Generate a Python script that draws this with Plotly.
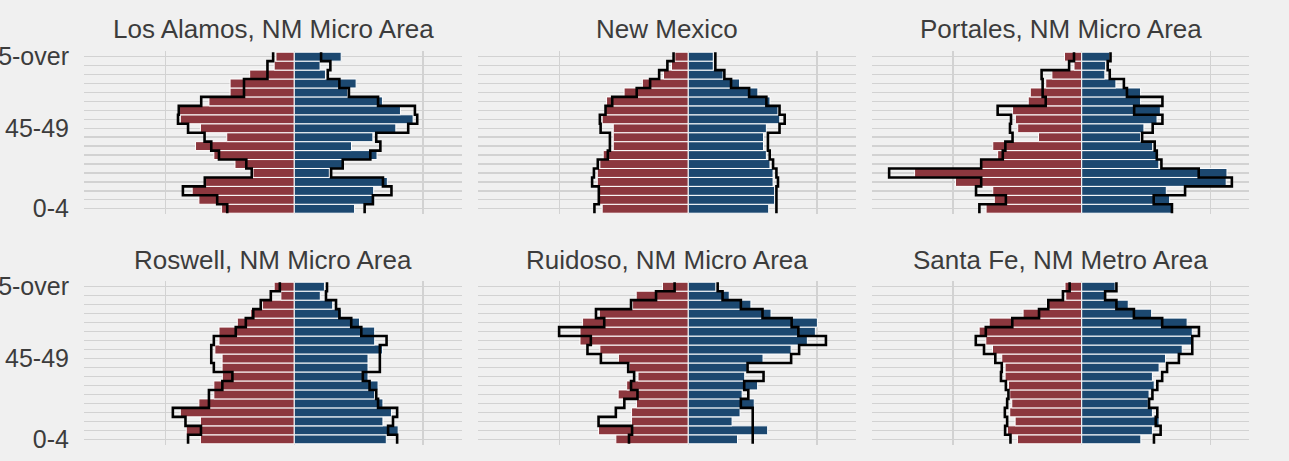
import plotly.graph_objects as go

# ---------------- data (percent of total population) ----------------
age_groups = ["0-4", "5-9", "10-14", "15-19", "20-24", "25-29", "30-34", "35-39",
              "40-44", "45-49", "50-54", "55-59", "60-64", "65-69", "70-74",
              "75-79", "80-84", "85-over"]
shown_age_labels = ["0-4", "45-49", "85-over"]

areas = ["Los Alamos, NM Micro Area", "New Mexico", "Portales, NM Micro Area",
         "Roswell, NM Micro Area", "Ruidoso, NM Micro Area", "Santa Fe, NM Metro Area"]

# bars: current male / female shares; outlines: comparison male / female shares
los_alamos_male = [2.82, 3.70, 3.96, 3.44, 1.60, 2.30, 3.12, 3.83, 2.62, 3.64, 4.42, 4.45, 3.31, 2.49, 2.49, 1.73, 0.78, 0.71]
los_alamos_female = [2.34, 3.12, 3.08, 3.61, 1.36, 1.88, 3.21, 2.22, 3.05, 3.94, 4.61, 4.12, 3.42, 2.08, 2.40, 1.21, 1.00, 1.82]
los_alamos_male_ref = [2.60, 2.99, 4.32, 3.47, 1.65, 1.86, 2.92, 3.22, 3.48, 4.12, 4.51, 4.48, 3.61, 1.95, 1.95, 1.04, 1.04, 0.82]
los_alamos_female_ref = [2.73, 3.05, 3.77, 3.44, 1.43, 1.88, 2.95, 3.34, 3.18, 4.42, 4.77, 4.68, 3.25, 2.12, 1.75, 1.30, 1.40, 1.04]

new_mexico_male = [3.34, 3.47, 3.47, 3.53, 3.53, 3.43, 3.30, 2.91, 2.91, 2.91, 3.34, 3.25, 3.17, 2.49, 1.78, 0.96, 0.65, 0.52]
new_mexico_female = [3.12, 3.35, 3.35, 3.29, 3.29, 3.17, 3.03, 2.92, 2.92, 3.03, 3.55, 3.48, 3.17, 2.70, 1.99, 1.35, 0.97, 0.97]
new_mexico_male_ref = [3.64, 3.47, 3.47, 3.73, 3.66, 3.51, 3.12, 3.04, 3.04, 3.40, 3.43, 3.21, 2.95, 2.00, 1.48, 1.13, 0.81, 0.57]
new_mexico_female_ref = [3.42, 3.42, 3.42, 3.48, 3.42, 3.29, 3.16, 3.09, 3.09, 3.54, 3.74, 3.54, 3.03, 2.36, 1.66, 1.40, 1.05, 1.05]

portales_male = [3.72, 3.40, 3.46, 4.91, 6.50, 3.91, 3.27, 3.46, 1.68, 2.49, 2.58, 2.69, 2.08, 2.00, 1.40, 1.16, 0.30, 0.67]
portales_female = [3.51, 3.42, 3.29, 5.62, 5.65, 3.00, 2.91, 2.76, 2.29, 2.42, 2.93, 3.06, 2.29, 2.29, 1.33, 0.90, 0.93, 1.09]
portales_male_ref = [3.98, 2.95, 4.11, 3.91, 7.49, 3.91, 3.07, 2.97, 2.69, 2.79, 2.75, 3.27, 1.40, 1.52, 1.52, 1.56, 0.49, 0.30]
portales_female_ref = [3.51, 2.80, 4.02, 5.84, 4.55, 3.10, 2.92, 2.84, 2.35, 2.76, 3.14, 2.04, 3.14, 1.76, 1.64, 1.09, 1.01, 1.12]

roswell_male = [3.64, 4.19, 3.64, 4.42, 3.70, 3.12, 3.12, 2.79, 2.80, 2.80, 3.08, 2.92, 2.92, 2.21, 1.69, 1.23, 0.52, 0.78]
roswell_female = [3.57, 4.03, 3.44, 3.77, 3.44, 3.12, 3.25, 2.86, 2.86, 2.86, 3.42, 3.12, 3.12, 2.53, 1.82, 1.49, 1.01, 1.17]
roswell_male_ref = [4.12, 3.62, 4.22, 4.71, 3.31, 3.31, 2.79, 2.40, 3.12, 3.22, 3.22, 3.12, 2.27, 1.88, 1.59, 1.30, 0.91, 0.56]
roswell_female_ref = [3.99, 3.64, 3.83, 3.99, 3.25, 3.18, 2.92, 2.66, 3.32, 3.32, 3.32, 3.58, 2.60, 2.21, 1.75, 1.62, 1.23, 1.27]

ruidoso_male = [2.81, 3.48, 2.20, 2.20, 2.01, 2.72, 2.39, 1.95, 2.30, 2.71, 3.43, 4.20, 4.20, 4.10, 3.45, 2.16, 2.02, 1.00]
ruidoso_female = [1.91, 3.08, 1.70, 2.01, 2.56, 2.09, 2.69, 2.19, 2.29, 2.90, 3.99, 4.62, 4.93, 5.01, 3.21, 2.43, 1.59, 1.07]
ruidoso_male_ref = [2.30, 2.18, 3.48, 2.81, 2.48, 1.97, 2.22, 2.10, 2.33, 3.39, 3.91, 3.78, 5.01, 3.26, 3.58, 2.22, 1.25, 0.53]
ruidoso_female_ref = [2.50, 2.50, 2.50, 2.50, 2.04, 2.33, 2.17, 2.92, 2.30, 3.99, 4.30, 5.34, 4.27, 4.01, 2.88, 2.04, 1.33, 1.14]

santa_fe_male = [2.50, 2.89, 2.59, 2.80, 2.72, 2.80, 2.85, 2.98, 2.98, 3.11, 3.47, 3.73, 3.99, 3.60, 2.28, 1.35, 0.62, 0.65]
santa_fe_female = [2.30, 2.75, 3.01, 2.75, 2.59, 2.62, 2.82, 2.75, 3.01, 3.26, 3.91, 4.30, 4.30, 4.10, 2.72, 1.81, 0.93, 1.30]
santa_fe_male_ref = [2.77, 2.98, 2.90, 2.99, 2.90, 2.85, 2.95, 3.14, 3.11, 3.36, 3.80, 4.12, 3.73, 2.70, 1.66, 1.30, 0.73, 0.47]
santa_fe_female_ref = [2.81, 3.07, 2.88, 2.94, 2.62, 2.75, 2.94, 3.13, 3.32, 3.78, 4.30, 4.30, 4.56, 3.13, 2.03, 1.35, 0.91, 1.35]

panels = [
    (los_alamos_male, los_alamos_female, los_alamos_male_ref, los_alamos_female_ref),
    (new_mexico_male, new_mexico_female, new_mexico_male_ref, new_mexico_female_ref),
    (portales_male, portales_female, portales_male_ref, portales_female_ref),
    (roswell_male, roswell_female, roswell_male_ref, roswell_female_ref),
    (ruidoso_male, ruidoso_female, ruidoso_male_ref, ruidoso_female_ref),
    (santa_fe_male, santa_fe_female, santa_fe_male_ref, santa_fe_female_ref),
]

# ---------------- style ----------------
W, H = 1289, 461
BG = "#F0F0F0"
GRID = "#D2D2D2"
RED = "#8C373E"
BLUE = "#1C4870"
TXT = "#3C3C3C"
FONT = "Liberation Sans, Arial, sans-serif"

col_px = [(84, 462), (478, 856), (872, 1249)]
row_px = [(51.3, 214.1), (281.3, 444.7)]
title_px = [28.5, 260]

# shared x scale with 5% expansion
lo = -max(max(p[0] + p[2]) for p in panels)
hi = max(max(p[1] + p[3]) for p in panels)
span = hi - lo
x_range = [lo - 0.05 * span, hi + 0.05 * span]

n_age = len(age_groups)
ypos = list(range(n_age))
step_y = [i - 0.5 for i in ypos] + [n_age - 0.5]

fig = go.Figure()
annotations = []
layout_axes = {}

for idx, (area, (male, female, male_ref, female_ref)) in enumerate(zip(areas, panels)):
    r, c = divmod(idx, 3)
    n = idx + 1
    xa = "x" if n == 1 else f"x{n}"
    ya = "y" if n == 1 else f"y{n}"

    fig.add_trace(go.Bar(y=ypos, x=[-v for v in male], orientation="h", width=1,
                         marker=dict(color=RED, line=dict(color="white", width=1)),
                         xaxis=xa, yaxis=ya, showlegend=False, name="Male"))
    fig.add_trace(go.Bar(y=ypos, x=female, orientation="h", width=1,
                         marker=dict(color=BLUE, line=dict(color="white", width=1)),
                         xaxis=xa, yaxis=ya, showlegend=False, name="Female"))
    fig.add_trace(go.Scatter(x=[-v for v in male_ref] + [-male_ref[-1]], y=step_y,
                             mode="lines", line=dict(color="black", width=2.6, shape="vh"),
                             xaxis=xa, yaxis=ya, showlegend=False, name="Male (comparison)"))
    fig.add_trace(go.Scatter(x=female_ref + [female_ref[-1]], y=step_y,
                             mode="lines", line=dict(color="black", width=2.6, shape="vh"),
                             xaxis=xa, yaxis=ya, showlegend=False, name="Female (comparison)"))

    x0, x1 = col_px[c]
    t, b = row_px[r]
    xkey = "xaxis" if n == 1 else f"xaxis{n}"
    ykey = "yaxis" if n == 1 else f"yaxis{n}"
    layout_axes[xkey] = dict(domain=[x0 / W, x1 / W], range=x_range, anchor=ya,
                             tickvals=[-5, 0, 5], showticklabels=False, ticks="",
                             showgrid=True, gridcolor=GRID, gridwidth=1.4,
                             zeroline=False, showline=False, fixedrange=True)
    layout_axes[ykey] = dict(domain=[(H - b) / H, (H - t) / H], range=[-0.6, n_age - 0.4],
                             anchor=xa, tickvals=ypos,
                             ticktext=[a if a in shown_age_labels else "" for a in age_groups],
                             showticklabels=(c == 0), ticks="", ticklabelstandoff=14,
                             tickfont=dict(size=25, color=TXT, family=FONT),
                             showgrid=True, gridcolor=GRID, gridwidth=1.4,
                             zeroline=False, showline=False, automargin=False, fixedrange=True)
    annotations.append(dict(text=area, x=(x0 + x1) / 2 / W, y=(H - title_px[r]) / H,
                            xref="paper", yref="paper", xanchor="center", yanchor="middle",
                            showarrow=False, font=dict(size=26, color=TXT, family=FONT)))

fig.update_layout(width=W, height=H, autosize=False, barmode="overlay", bargap=0,
                  paper_bgcolor=BG, plot_bgcolor=BG, hovermode=False,
                  margin=dict(l=0, r=0, t=0, b=0), annotations=annotations,
                  font=dict(family=FONT, color=TXT), **layout_axes)

fig.write_html("out.html",
               config={"displayModeBar": False, "staticPlot": True},
               post_script="document.body.style.margin='0';"
                           "document.body.style.background='#F0F0F0';"
                           "document.body.style.overflow='hidden';")
